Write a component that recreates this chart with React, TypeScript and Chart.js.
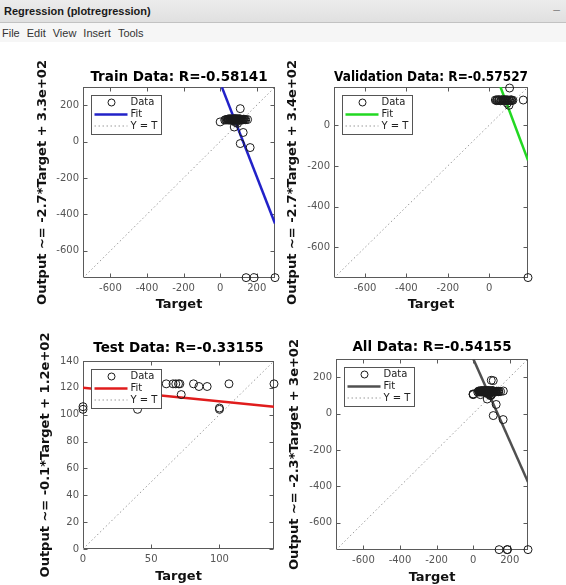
import React, { useEffect, useRef } from "react";
import { Chart, registerables } from "chart.js";

Chart.register(...registerables);

// ---------- data ----------
const TRAIN_TARGET = [0, 110, 77, 126, 110, 164, 142, 186, 300, 40, 45, 48, 52, 55, 58, 60, 63, 65, 68, 70, 72, 75, 77, 80, 82, 85, 88, 90, 92, 95, 97, 100, 102, 105, 108, 110, 113, 116, 120, 125, 130, 135, 150, 90, 85, 95, 25, 30, 35, 42, 47, 53, 57, 62, 67, 73, 78, 83, 87, 93, 98, 103, 107, 112, 118, 122, 128, 140];
const TRAIN_OUTPUT = [108, 181, 80, 50, -11, -33, -748, -748, -748, 120, 124, 118, 122, 126, 119, 123, 117, 121, 125, 119, 122, 116, 124, 120, 127, 118, 122, 125, 117, 121, 124, 119, 122, 126, 118, 121, 123, 119, 122, 120, 123, 121, 121, 110, 105, 100, 118, 121, 119, 123, 121, 120, 122, 121, 120, 121, 122, 121, 120, 122, 120, 121, 123, 120, 121, 119, 122, 120];
const TRAIN_FIT_X = [10, 300];
const TRAIN_FIT_Y = [298, -450];
const TRAIN_LIMITS = [-750, 300];
const TRAIN_TICKS = [-600, -400, -200, 0, 200];

const VAL_TARGET = [30, 35, 40, 45, 50, 55, 60, 65, 70, 75, 80, 85, 90, 95, 100, 105, 110, 115, 99, 165, 96, 88, 188, 38, 48, 58, 68, 78, 88, 98, 108];
const VAL_OUTPUT = [124, 121, 126, 122, 125, 120, 123, 127, 121, 124, 122, 126, 120, 123, 122, 125, 121, 123, 183, 124, 98, 108, -748, 123, 124, 122, 123, 124, 122, 123, 124];
const VAL_FIT_X = [55, 188];
const VAL_FIT_Y = [188, -172];
const VAL_LIMITS = [-750, 188];
const VAL_TICKS = [-600, -400, -200, 0];

const TEST_TARGET = [0, 0, 40, 61, 66, 68, 70, 71, 72, 81, 85, 91, 100, 100, 107, 140];
const TEST_OUTPUT = [106, 104, 104, 123, 123, 123, 123, 123, 115, 123, 121, 121, 105, 104, 123, 123];
const TEST_FIT_X = [0, 140];
const TEST_FIT_Y = [120, 106];
const TEST_LIMITS = [0, 140];
const TEST_X_TICKS = [0, 50, 100];
const TEST_Y_TICKS = [0, 20, 40, 60, 80, 100, 120, 140];

const ALL_TARGET = [...TRAIN_TARGET, ...VAL_TARGET, ...TEST_TARGET];
const ALL_OUTPUT = [...TRAIN_OUTPUT, ...VAL_OUTPUT, ...TEST_OUTPUT];
const ALL_FIT_X = [1, 300];
const ALL_FIT_Y = [300, -376];
const ALL_LIMITS = [-750, 300];
const ALL_TICKS = [-600, -400, -200, 0, 200];

const FONT = "'DejaVu Sans', 'Liberation Sans', sans-serif";

const toPoints = (xs: number[], ys: number[]) => xs.map((x, i) => ({ x, y: ys[i] }));

const decorPlugin = {
  id: "matlabDecor",
  beforeDatasetsDraw(chart: any) {
    const { ctx, chartArea: a, scales } = chart;
    ctx.save();
    ctx.strokeStyle = "#5a5a5a";
    ctx.lineWidth = 1;
    const L = Math.round(a.left) + 0.5;
    const T = Math.round(a.top) + 0.5;
    const R = Math.round(a.right) - 0.5;
    const B = Math.round(a.bottom) - 0.5;
    ctx.strokeRect(L, T, R - L, B - T);
    const tl = 4;
    ctx.beginPath();
    scales.x.ticks.forEach((t: any) => {
      const px = Math.round(scales.x.getPixelForValue(t.value)) + 0.5;
      ctx.moveTo(px, B);
      ctx.lineTo(px, B - tl);
      ctx.moveTo(px, T);
      ctx.lineTo(px, T + tl);
    });
    scales.y.ticks.forEach((t: any) => {
      const py = Math.round(scales.y.getPixelForValue(t.value)) + 0.5;
      ctx.moveTo(L, py);
      ctx.lineTo(L + tl, py);
      ctx.moveTo(R, py);
      ctx.lineTo(R - tl, py);
    });
    ctx.stroke();
    ctx.restore();
  },
  afterDraw(chart: any) {
    const { ctx, chartArea: a } = chart;
    const ds = chart.data.datasets;
    const x0 = Math.round(a.left) + 8.5;
    const y0 = Math.round(a.top) + 8.5;
    const w = 70;
    const h = 39;
    ctx.save();
    ctx.fillStyle = "#ffffff";
    ctx.fillRect(x0, y0, w, h);
    ctx.strokeStyle = "#555555";
    ctx.lineWidth = 1;
    ctx.strokeRect(x0, y0, w, h);
    const rows = [y0 + 7, y0 + 19, y0 + 30.5];
    ctx.beginPath();
    ctx.arc(x0 + 20, rows[0], 3.5, 0, Math.PI * 2);
    ctx.strokeStyle = ds[0].borderColor;
    ctx.lineWidth = 1;
    ctx.stroke();
    ctx.beginPath();
    ctx.moveTo(x0 + 3, rows[1]);
    ctx.lineTo(x0 + 36, rows[1]);
    ctx.strokeStyle = ds[1].borderColor;
    ctx.lineWidth = ds[1].borderWidth;
    ctx.stroke();
    ctx.beginPath();
    ctx.setLineDash(ds[2].borderDash);
    ctx.moveTo(x0 + 3, rows[2]);
    ctx.lineTo(x0 + 36, rows[2]);
    ctx.strokeStyle = ds[2].borderColor;
    ctx.lineWidth = ds[2].borderWidth;
    ctx.stroke();
    ctx.setLineDash([]);
    ctx.fillStyle = "#222222";
    ctx.font = `10px ${FONT}`;
    ctx.textBaseline = "middle";
    ctx.textAlign = "left";
    ds.forEach((d: any, i: number) => {
      ctx.fillText(d.label, x0 + 39, rows[i]);
    });
    ctx.restore();
  },
};

type PanelProps = {
  canvas: number[];
  plot: number[];
  titleY: number;
  yTitleX: number;
  xTitleY: number;
  title: string;
  yTitle: string;
  target: number[];
  output: number[];
  fitX: number[];
  fitY: number[];
  limits: number[];
  xTicks: number[];
  yTicks: number[];
  fitColor: string;
};

function Panel(p: PanelProps) {
  const ref = useRef<HTMLCanvasElement>(null);
  useEffect(() => {
    const [cx, cy, cw, ch] = p.canvas;
    const plotL = p.plot[0] - cx;
    const plotT = p.plot[1] - cy;
    const plotR = p.plot[2] - cx;
    const plotB = p.plot[3] - cy;
    const titleSize = 13.5;
    const titleLH = titleSize * 1.2;
    const axisSize = 13;
    const axisLH = axisSize * 1.2;
    const titlePadTop = p.titleY - cy - titleLH / 2;
    const titlePadBottom = plotT - titlePadTop - titleLH;
    const yTitlePad = p.yTitleX - cx - axisLH / 2;
    const xTitlePad = ch - (p.xTitleY - cy) - axisLH / 2;
    const xH = ch - plotB;
    const yW = plotL;
    const tickFont = { family: FONT, size: 10 };
    const axisTitleFont = { family: FONT, size: axisSize, weight: "bold" as const };

    const chart = new Chart(ref.current!, {
      type: "scatter",
      data: {
        datasets: [
          {
            label: "Data",
            data: toPoints(p.target, p.output),
            pointStyle: "circle",
            pointRadius: 4,
            pointBorderWidth: 1,
            borderColor: "#1a1a1a",
            backgroundColor: "rgba(0,0,0,0)",
            pointBackgroundColor: "rgba(0,0,0,0)",
            pointBorderColor: "#1a1a1a",
            showLine: false,
            clip: false,
            order: 0,
          } as any,
          {
            label: "Fit",
            data: toPoints(p.fitX, p.fitY),
            showLine: true,
            borderColor: p.fitColor,
            borderWidth: 2.5,
            pointRadius: 0,
            order: 1,
          } as any,
          {
            label: "Y = T",
            data: toPoints(p.limits, p.limits),
            showLine: true,
            borderColor: "#9a9a9a",
            borderWidth: 1,
            borderDash: [1.5, 2.5],
            pointRadius: 0,
            order: 2,
          } as any,
        ],
      },
      options: {
        responsive: false,
        animation: false,
        maintainAspectRatio: false,
        layout: { padding: { left: 0, top: 0, right: cw - plotR, bottom: 0 } },
        plugins: {
          legend: { display: false },
          tooltip: { enabled: false },
          title: {
            display: true,
            text: p.title,
            fullSize: false,
            color: "#000000",
            font: { family: FONT, size: titleSize, weight: "bold" },
            padding: { top: titlePadTop, bottom: titlePadBottom },
          },
        },
        scales: {
          x: {
            type: "linear",
            min: p.limits[0],
            max: p.limits[1],
            afterBuildTicks: (s: any) => {
              s.ticks = p.xTicks.map((v) => ({ value: v }));
            },
            afterFit: (s: any) => {
              s.height = xH;
            },
            grid: { display: false, drawTicks: false },
            border: { display: false },
            ticks: { padding: 4, color: "#555555", font: tickFont, autoSkip: false, maxRotation: 0 },
            title: {
              display: true,
              text: "Target",
              color: "#111111",
              font: axisTitleFont,
              padding: { top: 0, bottom: xTitlePad },
            },
          },
          y: {
            type: "linear",
            min: p.limits[0],
            max: p.limits[1],
            afterBuildTicks: (s: any) => {
              s.ticks = p.yTicks.map((v) => ({ value: v }));
            },
            afterFit: (s: any) => {
              s.width = yW;
            },
            grid: { display: false, drawTicks: false },
            border: { display: false },
            ticks: { padding: 4, color: "#555555", font: tickFont, autoSkip: false },
            title: {
              display: true,
              text: p.yTitle,
              color: "#111111",
              font: axisTitleFont,
              padding: { top: yTitlePad, bottom: 0 },
            },
          },
        },
      } as any,
      plugins: [decorPlugin as any],
    });
    return () => chart.destroy();
  }, []);
  return (
    <canvas
      ref={ref}
      width={p.canvas[2]}
      height={p.canvas[3]}
      style={{ position: "absolute", left: p.canvas[0], top: p.canvas[1], width: p.canvas[2], height: p.canvas[3] }}
    />
  );
}

export default function App() {
  useEffect(() => {
    document.body.style.margin = "0";
  }, []);
  const menu = ["File", "Edit", "View", "Insert", "Tools"];
  return (
    <div
      style={{
        position: "fixed",
        left: 0,
        top: 0,
        width: 566,
        height: 585,
        background: "#ffffff",
        overflow: "hidden",
        fontFamily: "'Liberation Sans', Arial, sans-serif",
      }}
    >
      <div
        style={{
          position: "absolute",
          left: 0,
          top: 0,
          width: 566,
          height: 23,
          background: "linear-gradient(#ececec, #e0e0e0)",
          borderBottom: "1px solid #c2c2c2",
          boxSizing: "border-box",
        }}
      >
        <span style={{ position: "absolute", left: 4, top: 5, fontSize: 11, color: "#1a1a1a", fontWeight: 600 }}>
          Regression (plotregression)
        </span>
        <span style={{ position: "absolute", right: 6, top: 3, fontSize: 12, color: "#888" }}>–</span>
      </div>
      <div
        style={{
          position: "absolute",
          left: 0,
          top: 23,
          width: 566,
          height: 19,
          background: "#f6f6f6",
        }}
      >
        {menu.map((m, i) => (
          <span key={m} style={{ fontSize: 11, color: "#333", marginLeft: i === 0 ? 2 : 7, lineHeight: "19px" }}>
            {m}
          </span>
        ))}
      </div>
      <Panel
        canvas={[0, 45, 283, 270]}
        plot={[83, 87, 275, 278]}
        titleY={77}
        yTitleX={43}
        xTitleY={305}
        title="Train Data: R=-0.58141"
        yTitle="Output ~= -2.7*Target + 3.3e+02"
        target={TRAIN_TARGET}
        output={TRAIN_OUTPUT}
        fitX={TRAIN_FIT_X}
        fitY={TRAIN_FIT_Y}
        limits={TRAIN_LIMITS}
        xTicks={TRAIN_TICKS}
        yTicks={TRAIN_TICKS}
        fitColor="#2222c8"
      />
      <Panel
        canvas={[283, 45, 283, 270]}
        plot={[334, 87, 528, 278]}
        titleY={77}
        yTitleX={293}
        xTitleY={305}
        title="Validation Data: R=-0.57527"
        yTitle="Output ~= -2.7*Target + 3.4e+02"
        target={VAL_TARGET}
        output={VAL_OUTPUT}
        fitX={VAL_FIT_X}
        fitY={VAL_FIT_Y}
        limits={VAL_LIMITS}
        xTicks={VAL_TICKS}
        yTicks={VAL_TICKS}
        fitColor="#22d822"
      />
      <Panel
        canvas={[0, 315, 283, 270]}
        plot={[83, 361, 274, 549]}
        titleY={348}
        yTitleX={46}
        xTitleY={577}
        title="Test Data: R=-0.33155"
        yTitle="Output ~= -0.1*Target + 1.2e+02"
        target={TEST_TARGET}
        output={TEST_OUTPUT}
        fitX={TEST_FIT_X}
        fitY={TEST_FIT_Y}
        limits={TEST_LIMITS}
        xTicks={TEST_X_TICKS}
        yTicks={TEST_Y_TICKS}
        fitColor="#e01c1c"
      />
      <Panel
        canvas={[283, 315, 283, 270]}
        plot={[336, 359, 528, 550]}
        titleY={347}
        yTitleX={295}
        xTitleY={578}
        title="All Data: R=-0.54155"
        yTitle="Output ~= -2.3*Target + 3e+02"
        target={ALL_TARGET}
        output={ALL_OUTPUT}
        fitX={ALL_FIT_X}
        fitY={ALL_FIT_Y}
        limits={ALL_LIMITS}
        xTicks={ALL_TICKS}
        yTicks={ALL_TICKS}
        fitColor="#505050"
      />
    </div>
  );
}
